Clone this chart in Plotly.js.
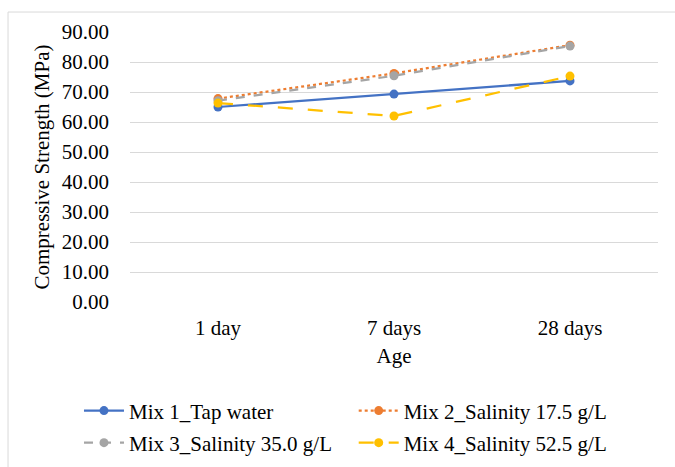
<!DOCTYPE html>
<html>
<head>
<meta charset="utf-8">
<script src="https://cdn.plot.ly/plotly-3.0.1.min.js"></script>
<style>html,body{margin:0;padding:0;background:#fff;}#chart{width:675px;height:467px;}</style>
</head>
<body>
<div id="chart"></div>
<script>
const categories = ["1 day", "7 days", "28 days"];
const seriesNames = ["Mix 1_Tap water", "Mix 2_Salinity 17.5 g/L", "Mix 3_Salinity 35.0 g/L", "Mix 4_Salinity 52.5 g/L"];
const mix1 = [65.0, 69.3, 73.7];
const mix2 = [67.8, 76.2, 85.6];
const mix3 = [67.1, 75.4, 85.3];
const mix4 = [66.3, 62.0, 75.3];
const yTicks = [0, 10, 20, 30, 40, 50, 60, 70, 80, 90];

const colors = ["#4472C4", "#ED7D31", "#A5A5A5", "#FFC000"];
const dashes = ["solid", "dot", "dash", "longdash"];
const legendIds = ["legend", "legend2", "legend3", "legend4"];
const legendX = [0.117, 0.524, 0.117, 0.524];
const legendY = [0.12, 0.12, 0.0514, 0.0514];
const data = [mix1, mix2, mix3, mix4];

const traces = data.map((vals, i) => ({
  type: "scatter",
  mode: "lines+markers",
  x: categories,
  y: vals,
  name: seriesNames[i],
  legend: legendIds[i],
  line: {color: colors[i], width: 2.25, dash: dashes[i]},
  marker: {color: colors[i], size: 9},
  cliponaxis: false
}));

const FAM = "Liberation Serif";
const font = {family: FAM, color: "#000", size: 21};

const layout = {
  width: 675, height: 467,
  margin: {l: 130, r: 17, t: 32, b: 165, autoexpand: false},
  paper_bgcolor: "#fff", plot_bgcolor: "#fff",
  font: font,
  showlegend: true,
  xaxis: {
    type: "category", range: [-0.5, 2.5],
    showgrid: false, zeroline: false, showline: false,
    ticks: "", tickfont: font, ticklabelstandoff: 11,
    title: {text: "Age", font: font, standoff: 9}
  },
  yaxis: {
    range: [0, 90], tickvals: yTicks, tickformat: ".2f",
    showgrid: true, gridcolor: "#d9d9d9", gridwidth: 1,
    zeroline: false, showline: false, ticks: "",
    tickfont: font, ticklabelstandoff: 20,
    title: {text: "Compressive Strength (MPa)", font: font, standoff: 6}
  },
  shapes: [{
    type: "rect", xref: "paper", yref: "paper",
    x0: -0.231, x1: 1.1, y0: -0.7, y1: 1.074,
    line: {color: "#d9d9d9", width: 1}
  }]
};

legendIds.forEach((id, i) => {
  layout[id] = {
    orientation: "h", xanchor: "left", yanchor: "middle",
    xref: "container", yref: "container",
    x: legendX[i], y: legendY[i],
    font: font, itemwidth: 40,
    bgcolor: "rgba(0,0,0,0)"
  };
});

Plotly.newPlot("chart", traces, layout, {displayModeBar: false, staticPlot: true});
</script>
</body>
</html>
